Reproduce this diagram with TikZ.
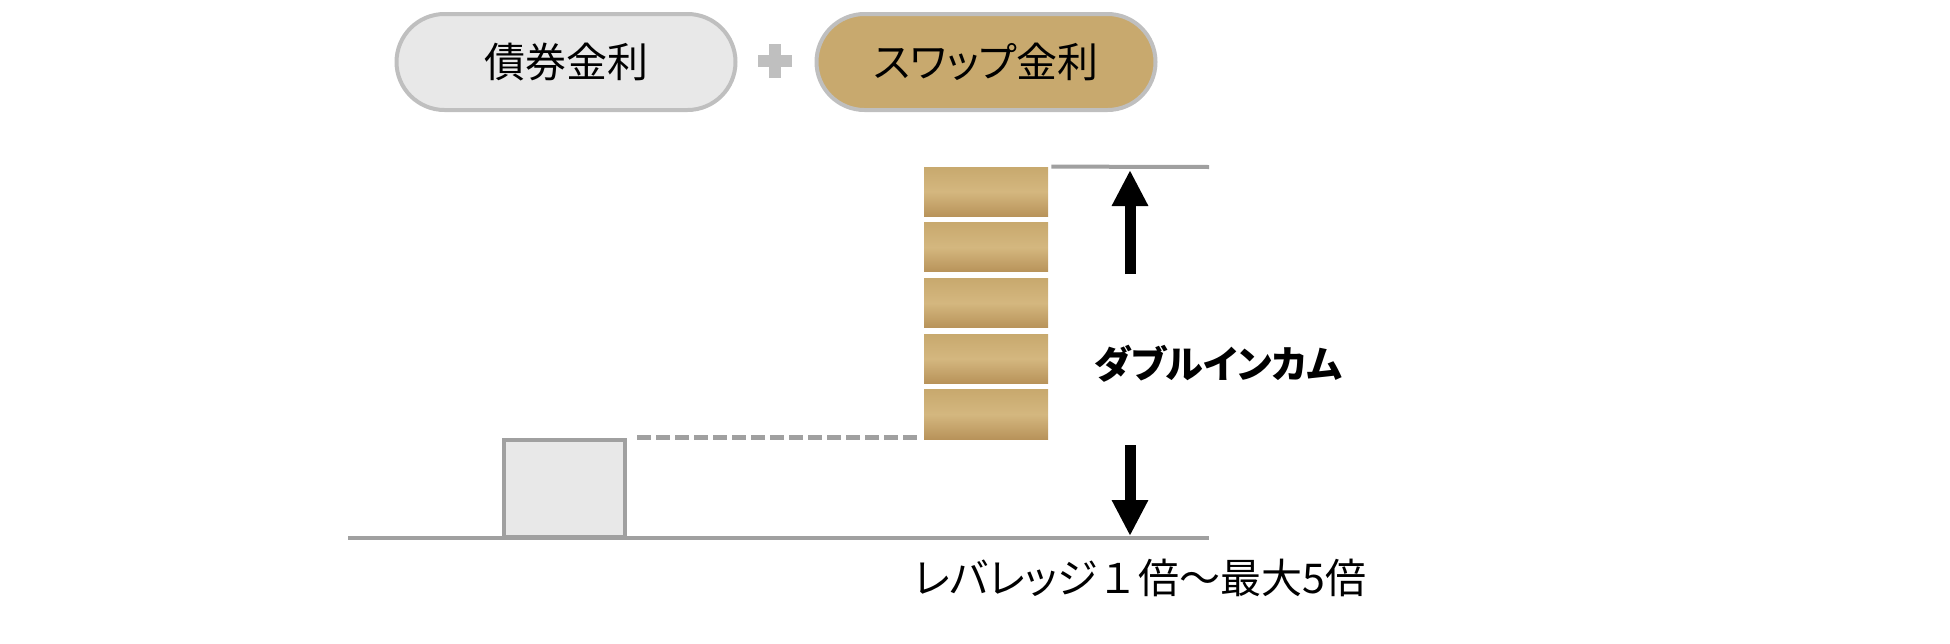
\documentclass[tikz,border=0pt]{standalone}
\usepackage{fontspec}
\setmainfont{Noto Sans CJK JP}[RawFeature=+palt]
\usetikzlibrary{arrows.meta,positioning,calc}
\definecolor{pillgray}{HTML}{E8E8E8}
\definecolor{pillline}{HTML}{BFBFBF}
\definecolor{gold}{HTML}{C8A96E}
\definecolor{golddark}{HTML}{B8935A}
\definecolor{goldlight}{HTML}{D4B77F}
\definecolor{lvlgray}{HTML}{A0A0A0}
\tikzset{
  pill/.style={draw=pillline,line width=2pt,rounded corners=24pt,
    minimum width=169.5pt,minimum height=48pt,inner sep=0pt,font=\fontsize{20.5pt}{24pt}\selectfont},
  goldblock/.style={minimum width=62pt,minimum height=24.6pt,inner sep=0pt,
    top color=gold,bottom color=golddark,middle color=goldlight},
  levelline/.style={draw=lvlgray,line width=2pt},
  bondbox/.style={draw=lvlgray,fill=pillgray,line width=2pt,minimum width=60.5pt,
    minimum height=48.5pt,inner sep=0pt},
  plusbar/.style={draw=pillline,line width=6pt},
  bigarrow/.style={line width=5.5pt,-{Triangle[width=17pt,length=18pt]}},
  caption/.style={inner sep=0pt,font=\fontsize{20.5pt}{24pt}\selectfont}
}
\begin{document}
\begin{tikzpicture}[x=0.5pt,y=-0.5pt]
  \useasboundingbox (0,0) rectangle (1950,643);
  % rates on top
  \node[pill,fill=pillgray] (bond) at (566,62) {債券金利};
  \node[pill,fill=gold] (swap) at (986,62) {スワップ金利};
  \coordinate (plus) at (775,61);
  \draw[plusbar] ([xshift=-8.5pt]plus) -- ([xshift=8.5pt]plus);
  \draw[plusbar] ([yshift=-8.5pt]plus) -- ([yshift=8.5pt]plus);
  % swap blocks
  \foreach \i in {1,...,5}
    \node[goldblock] (g\i) at (986,{191.6+55.7*(\i-1)}) {};
  % levels
  \coordinate (topend) at (1209,167);
  \draw[levelline] ([xshift=1.5pt]g1.north east) -- (topend);
  \coordinate (basestart) at (348,538);
  \coordinate (baseend) at (1209,538);
  \draw[levelline] (basestart) -- (baseend);
  \node[bondbox] (box) at (564.5,488) {};
  \draw[levelline,line width=2.5pt,dash pattern=on 7pt off 2.5pt]
    ([xshift=5pt]box.north east) -- ([xshift=-1pt]box.north east -| g5.west);
  % arrows
  \coordinate (upstart) at (1130,274);
  \coordinate (uptip) at (1130,170);
  \coordinate (downstart) at (1130,445);
  \coordinate (downtip) at (1130,536);
  \draw[bigarrow] (upstart) -- (uptip);
  \draw[bigarrow] (downstart) -- (downtip);
  % labels
  \node[caption,font=\fontsize{19pt}{22pt}\selectfont\bfseries] (double) at (1218,364) {ダブルインカム};
  \node[caption] (lev) at (1140,578) {レバレッジ{\addfontfeature{RawFeature=-palt}１}倍～最大5倍};
\end{tikzpicture}
\end{document}
